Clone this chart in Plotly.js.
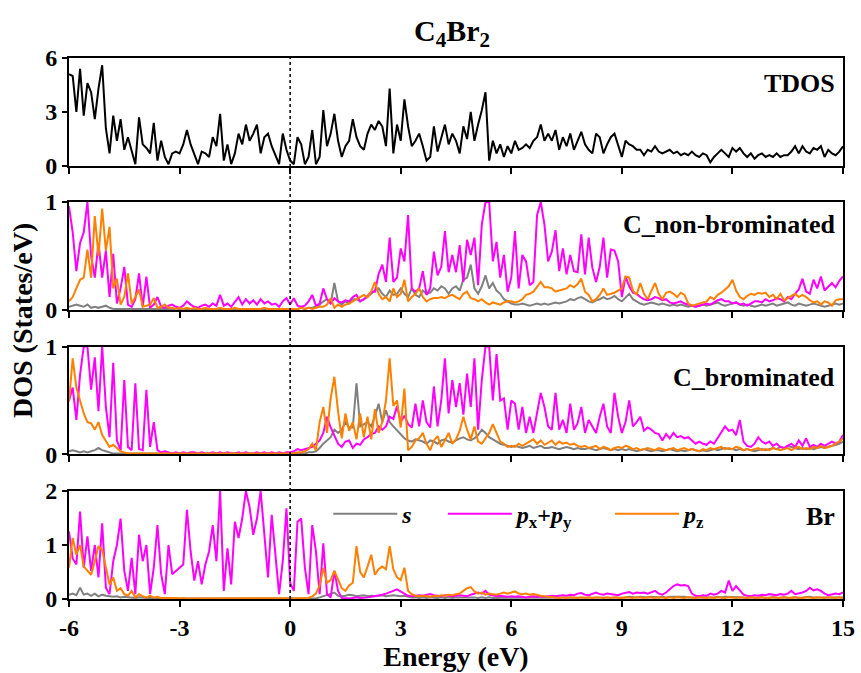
<!DOCTYPE html>
<html>
<head>
<meta charset="utf-8">
<script src="https://cdn.plot.ly/plotly-3.0.1.min.js"></script>
<style>html,body{margin:0;padding:0;background:#fff;}#chart{width:861px;height:673px;}</style>
</head>
<body>
<div id="chart"></div>
<script>
// Energy grid (eV)
const energy = [
-6,-5.9,-5.8,-5.7,-5.6,-5.5,-5.4,-5.3,-5.2,-5.1,
-5,-4.9,-4.8,-4.7,-4.6,-4.5,-4.4,-4.3,-4.2,-4.1,
-4,-3.9,-3.8,-3.7,-3.6,-3.5,-3.4,-3.3,-3.2,-3.1,
-3,-2.9,-2.8,-2.7,-2.6,-2.5,-2.4,-2.3,-2.2,-2.1,
-2,-1.9,-1.8,-1.7,-1.6,-1.5,-1.4,-1.3,-1.2,-1.1,
-1,-0.9,-0.8,-0.7,-0.6,-0.5,-0.4,-0.3,-0.2,-0.1,
0,0.1,0.2,0.3,0.4,0.5,0.6,0.7,0.8,0.9,
1,1.1,1.2,1.3,1.4,1.5,1.6,1.7,1.8,1.9,
2,2.1,2.2,2.3,2.4,2.5,2.6,2.7,2.8,2.9,
3,3.1,3.2,3.3,3.4,3.5,3.6,3.7,3.8,3.9,
4,4.1,4.2,4.3,4.4,4.5,4.6,4.7,4.8,4.9,
5,5.1,5.2,5.3,5.4,5.5,5.6,5.7,5.8,5.9,
6,6.1,6.2,6.3,6.4,6.5,6.6,6.7,6.8,6.9,
7,7.1,7.2,7.3,7.4,7.5,7.6,7.7,7.8,7.9,
8,8.1,8.2,8.3,8.4,8.5,8.6,8.7,8.8,8.9,
9,9.1,9.2,9.3,9.4,9.5,9.6,9.7,9.8,9.9,
10,10.1,10.2,10.3,10.4,10.5,10.6,10.7,10.8,10.9,
11,11.1,11.2,11.3,11.4,11.5,11.6,11.7,11.8,11.9,
12,12.1,12.2,12.3,12.4,12.5,12.6,12.7,12.8,12.9,
13,13.1,13.2,13.3,13.4,13.5,13.6,13.7,13.8,13.9,
14,14.1,14.2,14.3,14.4,14.5,14.6,14.7,14.8,14.9,
15];

// Panel 1: total DOS
const tdos = [
5.1,5.0,3.0,5.4,2.8,4.6,4.1,2.6,4.3,5.6,
2.1,0.7,2.8,1.4,2.6,0.9,1.6,0.8,0.1,2.7,
1.2,1.0,0.7,2.4,0.3,1.4,0.5,0.1,0.7,0.8,
0.7,1.2,2.0,1.2,0.6,0.1,0.8,0.7,0.5,1.6,
1.1,2.9,0.3,1.2,0.1,0.7,1.8,1.2,2.3,1.4,
1.8,2.3,0.7,1.6,1.8,1.1,0.6,0.1,1.8,0.9,
0.3,0.1,1.6,1.2,0.1,0.5,2.0,0.1,0.5,3.1,
1.1,1.8,2.9,1.4,0.5,1.1,1.4,2.6,1.6,1.1,
0.9,1.8,2.3,2.0,2.5,2.2,1.1,4.3,0.7,2.3,
1.4,3.7,2.2,1.1,1.4,1.8,1.1,0.3,0.5,2.2,
0.8,1.6,2.3,1.2,1.8,1.4,0.7,2.2,1.5,3.0,
1.4,2.3,3.1,4.1,0.3,1.4,0.7,1.2,0.5,1.1,
0.7,1.4,0.9,1.0,1.2,1.0,1.4,1.6,2.3,1.4,
1.8,1.4,2.0,0.9,1.6,1.1,1.8,0.9,1.4,1.9,
1.2,0.9,0.7,1.8,1.6,0.7,1.2,1.6,1.8,1.2,
0.5,1.4,1.2,1.1,0.9,0.9,0.6,0.9,0.8,1.1,
0.8,0.7,0.8,0.9,0.7,0.8,0.6,0.7,0.6,0.8,
0.6,0.5,0.7,0.6,0.2,0.5,0.7,0.9,0.7,0.5,
1.0,0.8,1.0,0.7,0.5,0.7,0.4,0.6,0.7,0.5,
0.6,0.5,0.7,0.5,0.6,0.6,0.8,1.1,0.7,1.1,
0.8,0.7,1.0,0.9,1.1,0.5,0.9,0.7,0.6,0.8,
1.1];

// Panel 2: C_non-brominated
const cNonS = [
0.03,0.04,0.05,0.04,0.03,0.05,0.02,0.03,0.02,0.03,
0.04,0.02,0.01,0.01,0.01,0.01,0.01,0.01,0.01,0.01,
0.01,0.01,0.01,0.01,0.01,0.01,0.01,0.01,0.01,0.01,
0.01,0.01,0.01,0.01,0.01,0.01,0.01,0.01,0.01,0.01,
0.01,0.01,0.01,0.01,0.01,0.01,0.01,0.01,0.01,0.01,
0.01,0.01,0.01,0.01,0.01,0.01,0.01,0.01,0.01,0.01,
0.01,0.01,0.01,0.02,0.01,0.02,0.02,0.03,0.05,0.08,
0.10,0.06,0.25,0.08,0.05,0.08,0.06,0.10,0.10,0.08,
0.10,0.12,0.15,0.18,0.20,0.15,0.12,0.18,0.14,0.15,
0.20,0.15,0.12,0.20,0.14,0.12,0.18,0.15,0.16,0.20,
0.18,0.22,0.20,0.15,0.20,0.22,0.18,0.28,0.30,0.42,
0.20,0.15,0.22,0.32,0.20,0.25,0.18,0.15,0.10,0.08,
0.06,0.05,0.05,0.06,0.05,0.04,0.05,0.06,0.05,0.06,
0.05,0.06,0.07,0.06,0.07,0.08,0.10,0.09,0.11,0.12,
0.10,0.08,0.07,0.09,0.10,0.12,0.10,0.11,0.13,0.10,
0.08,0.12,0.15,0.10,0.08,0.06,0.05,0.06,0.07,0.06,
0.05,0.06,0.05,0.04,0.05,0.04,0.05,0.04,0.03,0.04,
0.03,0.04,0.05,0.04,0.05,0.06,0.07,0.05,0.04,0.05,
0.06,0.07,0.05,0.04,0.05,0.04,0.03,0.04,0.05,0.04,
0.05,0.06,0.04,0.05,0.06,0.07,0.05,0.04,0.06,0.05,
0.04,0.05,0.06,0.05,0.04,0.03,0.04,0.05,0.06,0.05,
0.06];
const cNonPxy = [
0.96,0.72,0.36,0.62,0.72,1.0,0.50,0.30,0.62,0.30,
0.55,0.12,0.52,0.06,0.20,0.40,0.05,0.03,0.10,0.34,
0.03,0.31,0.02,0.05,0.12,0.03,0.02,0.04,0.05,0.03,
0.02,0.04,0.08,0.05,0.03,0.02,0.04,0.05,0.03,0.06,
0.04,0.14,0.04,0.06,0.03,0.08,0.12,0.05,0.10,0.06,
0.09,0.05,0.10,0.06,0.08,0.05,0.06,0.03,0.08,0.11,
0.05,0.11,0.04,0.03,0.04,0.08,0.14,0.04,0.06,0.20,
0.10,0.06,0.11,0.08,0.07,0.09,0.08,0.12,0.14,0.08,
0.10,0.13,0.17,0.17,0.33,0.42,0.26,0.67,0.26,0.30,
0.57,0.45,0.88,0.20,0.17,0.20,0.36,0.14,0.20,0.54,
0.32,0.40,0.73,0.35,0.51,0.35,0.60,0.26,0.65,0.51,
0.67,0.23,0.79,1.0,1.0,0.45,0.63,0.30,0.51,0.17,
0.30,0.73,0.20,0.51,0.45,0.23,0.26,0.88,1.0,0.79,
0.45,0.54,0.74,0.36,0.57,0.33,0.51,0.36,0.35,0.70,
0.33,0.67,0.39,0.26,0.40,0.67,0.30,0.56,0.55,0.45,
0.12,0.31,0.22,0.16,0.15,0.12,0.10,0.09,0.10,0.12,
0.11,0.09,0.10,0.07,0.06,0.07,0.08,0.06,0.05,0.04,
0.03,0.04,0.05,0.06,0.05,0.07,0.09,0.10,0.08,0.08,
0.06,0.07,0.05,0.06,0.04,0.06,0.08,0.08,0.07,0.10,
0.08,0.09,0.11,0.10,0.08,0.12,0.10,0.15,0.19,0.29,
0.17,0.15,0.28,0.20,0.31,0.18,0.22,0.25,0.21,0.27,
0.31];
const cNonPz = [
0.08,0.12,0.20,0.28,0.30,0.56,0.30,0.87,0.50,0.94,
0.55,0.77,0.20,0.29,0.05,0.12,0.34,0.06,0.12,0.19,
0.03,0.04,0.05,0.11,0.02,0.03,0.05,0.02,0.02,0.01,
0.02,0.01,0.02,0.01,0.02,0.01,0.01,0.02,0.01,0.01,
0.01,0.02,0.01,0.01,0.01,0.02,0.01,0.01,0.01,0.01,
0.01,0.01,0.01,0.02,0.01,0.01,0.01,0.01,0.01,0.01,
0.01,0.01,0.01,0.02,0.01,0.02,0.01,0.02,0.03,0.03,
0.05,0.11,0.02,0.05,0.03,0.05,0.06,0.08,0.10,0.12,
0.14,0.12,0.17,0.26,0.15,0.10,0.12,0.08,0.20,0.12,
0.15,0.28,0.08,0.12,0.15,0.20,0.12,0.08,0.10,0.11,
0.11,0.12,0.11,0.13,0.14,0.12,0.10,0.15,0.17,0.11,
0.10,0.08,0.10,0.07,0.05,0.07,0.06,0.05,0.07,0.08,
0.08,0.07,0.08,0.10,0.14,0.15,0.17,0.22,0.26,0.21,
0.21,0.20,0.17,0.18,0.19,0.20,0.23,0.21,0.24,0.29,
0.17,0.14,0.08,0.10,0.14,0.20,0.14,0.15,0.16,0.18,
0.20,0.31,0.30,0.18,0.14,0.25,0.15,0.10,0.18,0.25,
0.15,0.10,0.16,0.17,0.15,0.12,0.16,0.14,0.06,0.04,
0.05,0.06,0.07,0.08,0.12,0.10,0.14,0.16,0.19,0.22,
0.28,0.18,0.12,0.10,0.13,0.15,0.14,0.16,0.15,0.16,
0.12,0.14,0.10,0.15,0.09,0.11,0.13,0.15,0.12,0.14,
0.12,0.09,0.07,0.08,0.05,0.08,0.07,0.04,0.09,0.10,
0.10];

// Panel 3: C_brominated
const cBrS = [
0.03,0.04,0.03,0.02,0.03,0.02,0.03,0.04,0.06,0.04,
0.03,0.02,0.01,0.01,0.01,0.01,0.01,0.01,0.01,0.01,
0.01,0.01,0.01,0.01,0.01,0.01,0.01,0.01,0.01,0.01,
0.01,0.01,0.01,0.01,0.01,0.01,0.01,0.01,0.01,0.01,
0.01,0.01,0.01,0.01,0.01,0.01,0.01,0.01,0.01,0.01,
0.01,0.01,0.01,0.01,0.01,0.01,0.01,0.01,0.01,0.01,
0.01,0.01,0.01,0.01,0.01,0.02,0.02,0.03,0.06,0.10,
0.13,0.16,0.23,0.20,0.23,0.30,0.25,0.25,0.66,0.26,
0.28,0.30,0.26,0.35,0.47,0.30,0.41,0.30,0.26,0.22,
0.18,0.15,0.13,0.12,0.14,0.13,0.12,0.10,0.13,0.12,
0.10,0.13,0.14,0.12,0.11,0.13,0.15,0.16,0.14,0.13,
0.15,0.18,0.23,0.20,0.16,0.14,0.12,0.10,0.09,0.08,
0.07,0.08,0.07,0.06,0.07,0.08,0.06,0.07,0.08,0.06,
0.06,0.07,0.06,0.05,0.06,0.07,0.06,0.05,0.06,0.05,
0.05,0.06,0.05,0.04,0.05,0.06,0.05,0.04,0.05,0.04,
0.05,0.04,0.05,0.04,0.03,0.04,0.05,0.04,0.03,0.04,
0.04,0.03,0.04,0.05,0.04,0.03,0.04,0.03,0.04,0.05,
0.04,0.03,0.04,0.03,0.04,0.05,0.04,0.05,0.06,0.05,
0.05,0.04,0.05,0.04,0.05,0.04,0.03,0.04,0.05,0.04,
0.05,0.06,0.05,0.07,0.06,0.08,0.07,0.06,0.05,0.06,
0.05,0.06,0.05,0.06,0.07,0.06,0.07,0.08,0.09,0.10,
0.12];
const cBrPxy = [
0.50,0.62,0.32,0.74,1.0,1.0,0.60,0.90,0.40,1.0,
0.44,0.16,0.85,0.13,0.04,0.69,0.07,0.04,0.66,0.05,
0.04,0.60,0.07,0.30,0.04,0.02,0.03,0.02,0.01,0.02,
0.01,0.02,0.01,0.02,0.02,0.01,0.02,0.01,0.01,0.02,
0.01,0.02,0.01,0.02,0.01,0.01,0.02,0.01,0.02,0.01,
0.01,0.02,0.01,0.02,0.01,0.02,0.01,0.02,0.01,0.02,
0.02,0.03,0.05,0.04,0.05,0.06,0.07,0.10,0.13,0.20,
0.35,0.25,0.17,0.10,0.07,0.12,0.13,0.06,0.10,0.09,
0.14,0.16,0.19,0.20,0.26,0.23,0.26,0.35,0.33,0.45,
0.30,0.36,0.28,0.25,0.47,0.26,0.50,0.30,0.25,0.63,
0.26,0.50,0.89,0.38,0.69,0.44,0.66,0.37,0.75,0.44,
0.89,0.23,0.69,1.0,1.0,0.50,0.93,0.50,0.52,0.23,
0.50,0.47,0.23,0.44,0.20,0.35,0.20,0.40,0.57,0.44,
0.26,0.23,0.57,0.23,0.32,0.20,0.47,0.23,0.29,0.44,
0.20,0.32,0.26,0.20,0.35,0.47,0.26,0.20,0.57,0.35,
0.20,0.30,0.50,0.26,0.30,0.35,0.22,0.25,0.23,0.20,
0.19,0.13,0.19,0.15,0.20,0.16,0.17,0.15,0.16,0.13,
0.10,0.12,0.10,0.09,0.12,0.10,0.15,0.20,0.26,0.22,
0.23,0.18,0.32,0.12,0.08,0.07,0.10,0.16,0.12,0.10,
0.12,0.08,0.10,0.07,0.06,0.08,0.10,0.07,0.13,0.08,
0.15,0.07,0.09,0.07,0.10,0.08,0.10,0.12,0.10,0.12,
0.18];
const cBrPz = [
0.49,0.89,0.62,0.50,0.38,0.30,0.29,0.23,0.30,0.18,
0.12,0.07,0.09,0.06,0.03,0.02,0.01,0.01,0.01,0.01,
0.01,0.01,0.01,0.01,0.01,0.01,0.01,0.01,0.01,0.01,
0.01,0.01,0.01,0.01,0.01,0.01,0.01,0.01,0.01,0.01,
0.01,0.01,0.01,0.01,0.01,0.01,0.01,0.01,0.01,0.01,
0.01,0.01,0.01,0.01,0.01,0.01,0.01,0.01,0.01,0.01,
0.01,0.01,0.02,0.02,0.03,0.05,0.10,0.04,0.30,0.44,
0.20,0.52,0.72,0.40,0.15,0.38,0.22,0.30,0.14,0.38,
0.16,0.35,0.14,0.42,0.20,0.30,0.50,0.89,0.45,0.50,
0.25,0.61,0.04,0.07,0.13,0.15,0.20,0.10,0.04,0.13,
0.17,0.07,0.13,0.20,0.10,0.14,0.22,0.35,0.23,0.14,
0.26,0.12,0.10,0.15,0.20,0.28,0.20,0.12,0.10,0.07,
0.08,0.07,0.10,0.08,0.10,0.12,0.14,0.10,0.13,0.09,
0.11,0.13,0.09,0.12,0.10,0.11,0.09,0.10,0.08,0.07,
0.08,0.06,0.07,0.08,0.05,0.07,0.06,0.04,0.06,0.07,
0.06,0.08,0.07,0.05,0.06,0.04,0.05,0.06,0.05,0.04,
0.06,0.05,0.04,0.05,0.06,0.04,0.05,0.06,0.04,0.05,
0.04,0.03,0.05,0.04,0.06,0.05,0.06,0.07,0.05,0.06,
0.05,0.07,0.06,0.04,0.05,0.04,0.05,0.06,0.04,0.05,
0.04,0.06,0.05,0.04,0.05,0.06,0.04,0.06,0.07,0.05,
0.06,0.05,0.07,0.06,0.08,0.06,0.07,0.08,0.10,0.12,
0.15];

// Panel 4: Br
const brS = [
0.08,0.10,0.07,0.21,0.08,0.10,0.06,0.10,0.05,0.08,
0.06,0.05,0.04,0.05,0.03,0.04,0.03,0.02,0.02,0.03,
0.02,0.02,0.02,0.01,0.02,0.01,0.01,0.02,0.01,0.01,
0.01,0.01,0.01,0.01,0.01,0.01,0.01,0.01,0.01,0.01,
0.01,0.01,0.01,0.01,0.01,0.01,0.01,0.01,0.01,0.01,
0.01,0.01,0.01,0.01,0.01,0.01,0.01,0.01,0.01,0.01,
0.01,0.01,0.01,0.01,0.01,0.01,0.01,0.01,0.03,0.05,
0.08,0.10,0.12,0.06,0.05,0.06,0.08,0.07,0.05,0.06,
0.07,0.05,0.06,0.05,0.06,0.07,0.05,0.06,0.07,0.06,
0.05,0.06,0.04,0.03,0.03,0.02,0.03,0.02,0.03,0.02,
0.02,0.03,0.02,0.03,0.02,0.03,0.03,0.04,0.03,0.03,
0.03,0.02,0.03,0.02,0.03,0.02,0.02,0.03,0.02,0.02,
0.02,0.03,0.02,0.02,0.03,0.02,0.02,0.03,0.02,0.02,
0.03,0.02,0.03,0.02,0.03,0.03,0.02,0.03,0.03,0.02,
0.03,0.03,0.02,0.03,0.03,0.02,0.03,0.03,0.03,0.02,
0.03,0.03,0.04,0.03,0.03,0.04,0.03,0.03,0.04,0.03,
0.03,0.04,0.03,0.04,0.04,0.05,0.04,0.04,0.03,0.03,
0.03,0.02,0.03,0.03,0.03,0.03,0.04,0.03,0.04,0.04,
0.03,0.04,0.03,0.03,0.02,0.03,0.02,0.03,0.03,0.02,
0.03,0.03,0.02,0.03,0.03,0.02,0.03,0.03,0.02,0.03,
0.03,0.04,0.03,0.03,0.03,0.02,0.03,0.03,0.02,0.03,
0.03];
const brPxy = [
1.25,0.75,0.64,1.62,0.58,1.16,0.52,1.00,0.40,1.40,
0.21,0.09,0.70,1.00,1.49,0.52,0.15,0.76,0.09,1.19,
0.70,1.00,0.09,0.58,1.37,0.46,0.09,1.00,0.46,0.52,
0.58,0.64,1.65,0.88,0.34,0.70,0.27,0.64,0.88,1.37,
0.70,2.00,0.15,0.94,0.27,1.43,1.13,1.49,2.00,1.70,
1.19,1.49,2.00,1.13,0.40,1.56,0.88,0.09,0.70,1.68,
0.30,0.15,1.43,1.49,0.58,0.09,1.37,0.88,0.09,1.03,
0.09,0.03,0.52,0.15,0.02,0.01,0.01,0.02,0.03,0.02,
0.02,0.03,0.04,0.05,0.06,0.08,0.10,0.12,0.15,0.18,
0.14,0.10,0.06,0.05,0.06,0.07,0.06,0.07,0.09,0.07,
0.06,0.05,0.07,0.06,0.05,0.06,0.07,0.06,0.05,0.08,
0.10,0.12,0.10,0.15,0.08,0.06,0.05,0.06,0.05,0.04,
0.05,0.04,0.05,0.04,0.03,0.04,0.05,0.04,0.05,0.04,
0.05,0.06,0.05,0.06,0.07,0.06,0.08,0.07,0.10,0.11,
0.08,0.07,0.10,0.12,0.09,0.08,0.10,0.09,0.08,0.07,
0.10,0.12,0.13,0.10,0.12,0.11,0.12,0.10,0.13,0.15,
0.10,0.08,0.12,0.18,0.24,0.27,0.25,0.26,0.24,0.10,
0.06,0.05,0.07,0.06,0.10,0.08,0.10,0.15,0.12,0.34,
0.15,0.24,0.15,0.08,0.06,0.05,0.07,0.06,0.08,0.07,
0.09,0.08,0.07,0.09,0.08,0.10,0.15,0.09,0.10,0.12,
0.15,0.21,0.16,0.18,0.15,0.10,0.07,0.08,0.10,0.09,
0.12];
const brPz = [
0.58,1.13,0.82,1.00,0.60,0.52,0.45,0.70,0.98,0.91,
0.60,0.27,0.40,0.15,0.20,0.09,0.06,0.15,0.03,0.09,
0.05,0.03,0.06,0.03,0.04,0.02,0.02,0.02,0.03,0.02,
0.01,0.02,0.01,0.01,0.02,0.01,0.01,0.01,0.02,0.01,
0.01,0.01,0.01,0.01,0.01,0.01,0.01,0.01,0.01,0.01,
0.01,0.01,0.01,0.01,0.01,0.01,0.01,0.01,0.01,0.01,
0.01,0.01,0.01,0.01,0.01,0.02,0.05,0.10,0.25,0.58,
0.30,0.35,0.52,0.35,0.20,0.15,0.25,0.30,0.98,0.50,
0.40,0.60,0.82,0.45,0.55,0.60,0.55,0.98,0.55,0.40,
0.35,0.58,0.15,0.09,0.06,0.05,0.06,0.05,0.04,0.06,
0.05,0.07,0.06,0.08,0.07,0.09,0.10,0.15,0.20,0.22,
0.14,0.10,0.12,0.08,0.10,0.09,0.08,0.10,0.12,0.10,
0.12,0.14,0.10,0.09,0.10,0.08,0.09,0.07,0.06,0.05,
0.04,0.03,0.03,0.02,0.03,0.02,0.03,0.02,0.02,0.03,
0.02,0.03,0.02,0.03,0.02,0.02,0.03,0.02,0.03,0.02,
0.02,0.03,0.02,0.02,0.03,0.02,0.02,0.03,0.02,0.02,
0.03,0.02,0.02,0.03,0.02,0.03,0.02,0.02,0.03,0.02,
0.02,0.03,0.02,0.02,0.03,0.02,0.03,0.02,0.02,0.03,
0.02,0.02,0.03,0.02,0.02,0.03,0.02,0.02,0.03,0.02,
0.02,0.03,0.02,0.02,0.03,0.02,0.02,0.03,0.02,0.02,
0.03,0.02,0.02,0.03,0.02,0.02,0.03,0.02,0.02,0.03,
0.02];

const panelLabels = ['TDOS', 'C_non-brominated', 'C_brominated', 'Br'];
const xTicks = [-6, -3, 0, 3, 6, 9, 12, 15];
const orbitalNames = ['<i>s</i>', '<i>p</i><sub>x</sub>+<i>p</i><sub>y</sub>', '<i>p</i><sub>z</sub>'];

const FONT = 'Liberation Serif, Times New Roman, serif';
const cS = '#808080', cPxy = '#FF00FF', cPz = '#FF8000';

function tr(y, ax, color, name, legendId, show) {
  return {x: energy, y: y, xaxis: 'x' + ax, yaxis: 'y' + ax, type: 'scatter', mode: 'lines',
    line: {color: color, width: 2}, name: name, showlegend: !!show,
    legend: legendId || 'legend', hoverinfo: 'skip'};
}

const data = [
  tr(tdos, '', 'black', 'TDOS', 'legend', false),
  tr(cNonS, '2', cS, orbitalNames[0]), tr(cNonPxy, '2', cPxy, orbitalNames[1]), tr(cNonPz, '2', cPz, orbitalNames[2]),
  tr(cBrS, '3', cS, orbitalNames[0]), tr(cBrPxy, '3', cPxy, orbitalNames[1]), tr(cBrPz, '3', cPz, orbitalNames[2]),
  tr(brS, '4', cS, orbitalNames[0], 'legend', true),
  tr(brPxy, '4', cPxy, orbitalNames[1], 'legend2', true),
  tr(brPz, '4', cPz, orbitalNames[2], 'legend3', true)
];

const tickFont = {family: FONT, size: 24, color: 'black', weight: 'bold'};
function xax(anchor, labels) {
  return {anchor: anchor, range: [-6, 15], tickvals: xTicks, ticktext: xTicks.map(String), showticklabels: labels,
    showline: true, linecolor: 'black', linewidth: 2, mirror: true, ticks: 'outside', ticklen: 6, tickwidth: 2,
    tickcolor: 'black', showgrid: false, zeroline: false, tickfont: tickFont, matches: anchor === 'y' ? undefined : 'x'};
}
function yax(dom, range, tv) {
  return {domain: dom, range: range, tickvals: tv, showline: true, linecolor: 'black', linewidth: 2, mirror: true,
    ticks: 'outside', ticklen: 5, tickwidth: 2, tickcolor: 'black', showgrid: false, zeroline: false, tickfont: tickFont};
}

const xa4 = xax('y4', true);
xa4.title = {text: 'Energy (eV)', font: {family: FONT, size: 28, color: 'black', weight: 'bold'}, standoff: 6};

const legFont = {family: FONT, size: 24, color: 'black', weight: 'bold'};
function leg(x) {
  return {x: x, y: 0.157, xanchor: 'left', yanchor: 'middle', orientation: 'h', bgcolor: 'rgba(0,0,0,0)',
    borderwidth: 0, font: legFont, itemwidth: 64};
}

const labelY = [0.952, 0.693, 0.410, 0.1516];
const annotations = panelLabels.map((t, i) => ({
  text: t, xref: 'paper', yref: 'paper', x: 0.992, y: labelY[i], xanchor: 'right', yanchor: 'middle',
  showarrow: false, font: {family: FONT, size: 26, color: 'black', weight: 'bold'}
}));
annotations.push({text: 'DOS (States/eV)', xref: 'paper', yref: 'paper', x: -0.0594, y: 0.514,
  xanchor: 'center', yanchor: 'middle', textangle: -90, showarrow: false,
  font: {family: FONT, size: 28, color: 'black', weight: 'bold'}});

const layout = {
  width: 861, height: 673,
  margin: {l: 69, r: 18, t: 58, b: 74},
  paper_bgcolor: 'white', plot_bgcolor: 'white',
  font: {family: FONT, color: 'black', weight: 'bold'},
  title: {text: 'C<sub>4</sub>Br<sub>2</sub>', xref: 'container', x: 0.525, xanchor: 'center',
    yref: 'container', y: 0.955, yanchor: 'middle', font: {family: FONT, size: 30, color: 'black', weight: 'bold'}},
  xaxis: xax('y', false), xaxis2: xax('y2', false), xaxis3: xax('y3', false), xaxis4: xa4,
  yaxis: yax([0.8004, 1], [0, 6], [0, 3, 6]),
  yaxis2: yax([0.5342, 0.7338], [0, 1], [0, 1]),
  yaxis3: yax([0.2671, 0.4667], [0, 1], [0, 1]),
  yaxis4: yax([0, 0.1996], [0, 2], [0, 1, 2]),
  legend: leg(0.335), legend2: leg(0.483), legend3: leg(0.699),
  shapes: [{type: 'line', xref: 'x', yref: 'paper', x0: 0, x1: 0, y0: 0, y1: 1, layer: 'above',
    line: {color: 'black', width: 1.5, dash: 'dot'}}],
  annotations: annotations
};

Plotly.newPlot('chart', data, layout, {displayModeBar: false, staticPlot: true});
</script>
</body>
</html>
